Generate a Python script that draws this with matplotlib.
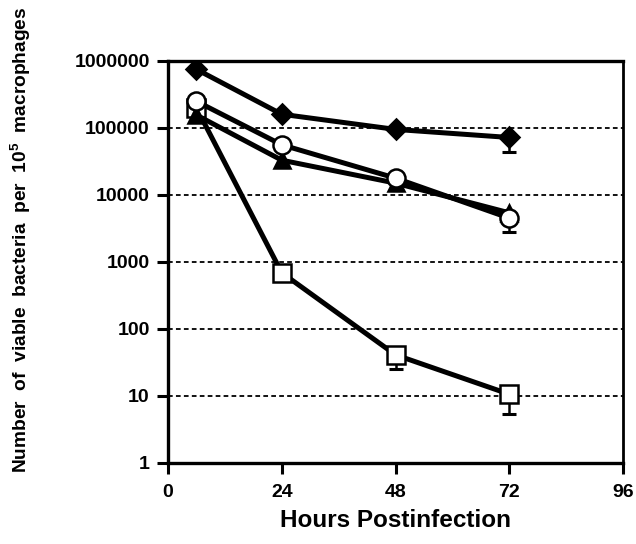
import matplotlib
matplotlib.use("Agg")
import matplotlib.pyplot as plt
import numpy as np

plt.rcParams['font.family'] = ['Liberation Sans', 'DejaVu Sans']
plt.rcParams['font.weight'] = 'bold'
plt.rcParams['mathtext.fontset'] = 'custom'
plt.rcParams['mathtext.bf'] = 'Liberation Sans:bold'
plt.rcParams['mathtext.rm'] = 'Liberation Sans:bold'
plt.rcParams['mathtext.default'] = 'bf'

hours = [6, 24, 48, 72]
diamond = [750000, 160000, 95000, 72000]
circle = [250000, 56000, 17800, 4500]
triangle = [156000, 33000, 15000, 5400]
square = [200000, 690, 41, 10.6]

# lower error bars (value of the lower cap)
diamond_low = [None, None, None, 44000]
circle_low = [None, None, None, 2840]
square_low = [None, None, 25, 5.4]

xticks = [0, 24, 48, 72, 96]
yticks = [1, 10, 100, 1000, 10000, 100000, 1000000]
ytick_labels = ["1", "10", "100", "1000", "10000", "100000", "1000000"]

fig = plt.figure(figsize=(6.36, 5.44), dpi=100)
ax = fig.add_axes([0.264, 0.149, 0.716, 0.739])
ax.set_yscale('log')
ax.set_xlim(0, 96)
ax.set_ylim(1, 1000000)

for yv in yticks[1:-1]:
    ax.axhline(yv, color='black', lw=1.3, ls=(0, (2.6, 1.8)), zorder=1)

def draw(vals, lows, marker, mfc, ms, z):
    ax.plot(hours, vals, color='black', lw=3.6, marker=marker, mfc=mfc,
            mec='black', mew=1.8, ms=ms, zorder=z)
    if lows is not None:
        xs = [h for h, l in zip(hours, lows) if l is not None]
        vs = [v for v, l in zip(vals, lows) if l is not None]
        ls_ = [l for l in lows if l is not None]
        ax.errorbar(xs, vs, yerr=[[v - l for v, l in zip(vs, ls_)], [0] * len(vs)],
                    fmt='none', ecolor='black', elinewidth=1.8, capsize=5,
                    capthick=2.2, zorder=z - 0.5)

draw(square, square_low, 's', 'white', 13, 3)
draw(triangle, None, '^', 'black', 11, 4)
draw(circle, circle_low, 'o', 'white', 13, 5)
draw(diamond, diamond_low, 'D', 'black', 10.5, 6)

ax.set_xticks(xticks)
ax.set_xticklabels([str(t) for t in xticks])
ax.set_yticks(yticks)
ax.set_yticklabels(ytick_labels)
ax.yaxis.set_minor_locator(matplotlib.ticker.NullLocator())

for s in ax.spines.values():
    s.set_linewidth(2.4)
ax.spines['right'].set_linewidth(2.0)

ax.tick_params(axis='both', direction='out', length=8, width=2.2,
               labelsize=14, pad=5)
ax.tick_params(axis='x', pad=7)
for lab in ax.get_xticklabels() + ax.get_yticklabels():
    lab.set_fontweight('bold')

ax.set_xlabel("Hours Postinfection", fontsize=17.5, fontweight='bold', labelpad=6)
fig.text(0.033, 0.56, "Number  of  viable  bacteria  per  10$^{5}$  macrophages",
         rotation=90, ha='center', va='center', fontsize=13.8, fontweight='bold')

fig.savefig("out.png", dpi=100)
